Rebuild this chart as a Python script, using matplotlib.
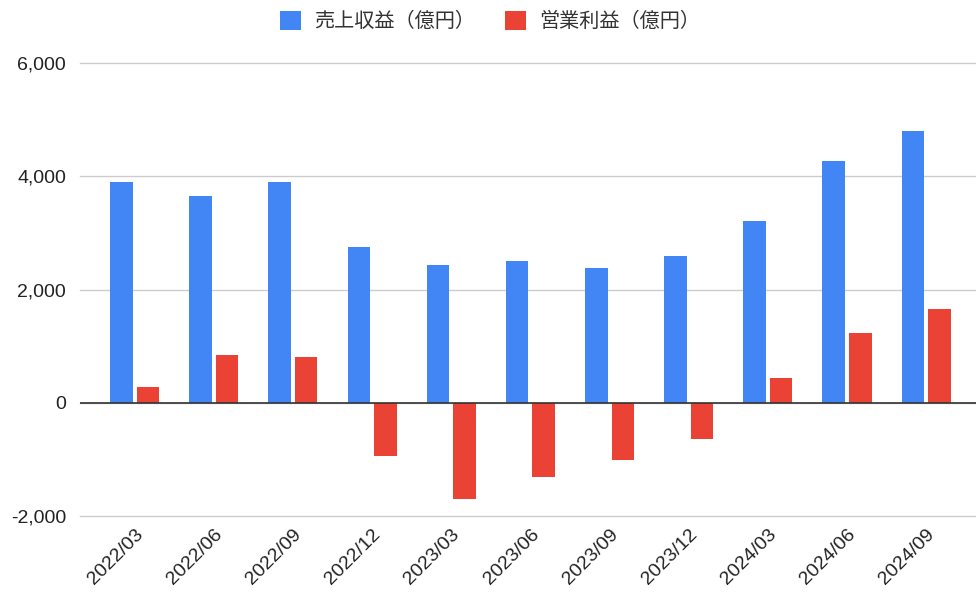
import numpy as np
import matplotlib
matplotlib.use('Agg')
import matplotlib.pyplot as plt
from matplotlib.ticker import FuncFormatter

plt.rcParams['font.family'] = ['Liberation Sans', 'Noto Sans CJK JP', 'DejaVu Sans']

periods = ['2022/03', '2022/06', '2022/09', '2022/12', '2023/03', '2023/06',
           '2023/09', '2023/12', '2024/03', '2024/06', '2024/09']
revenue = [3905, 3660, 3905, 2756, 2438, 2509, 2385, 2597, 3216, 4276, 4806]
op_income = [283, 848, 813, -936, -1696, -1307, -1007, -636, 442, 1237, 1661]

revenue_label = '売上収益（億円）'
op_label = '営業利益（億円）'

fig = plt.figure(figsize=(9.76, 5.95), dpi=100)
ax = fig.add_axes([0.082, 0.1328, 0.918, 0.7612])

x = np.arange(len(periods))
w = 0.285
gap = 0.025
ax.bar(x - w / 2 - gap, revenue, width=w, color='#4285F4', label=revenue_label, zorder=3)
ax.bar(x + w / 2 + gap, op_income, width=w, color='#EA4335', label=op_label, zorder=3)

ax.set_ylim(-2000, 6000)
ax.set_yticks([-2000, 0, 2000, 4000, 6000])
ax.yaxis.set_major_formatter(FuncFormatter(lambda v, p: '{:,.0f}'.format(v)))
ax.set_xlim(-0.69, 10.63)
ax.set_xticks(x)
ax.set_xticklabels(periods, rotation=45, ha='right', rotation_mode='anchor')

ax.grid(axis='y', color='#cccccc', linewidth=1, zorder=0)
for gl in ax.get_ygridlines():
    gl.set_clip_on(False)
ax.axhline(0, color='#333333', linewidth=1.2, zorder=4)
for s in ax.spines.values():
    s.set_visible(False)
ax.tick_params(axis='both', length=0, labelsize=14, colors='#222222')
ax.tick_params(axis='x', pad=7)
ax.tick_params(axis='y', pad=10)

leg = fig.legend(loc='upper center', bbox_to_anchor=(0.502, 1.012), ncol=2, frameon=False,
                 prop={'family': ['Noto Sans CJK JP', 'DejaVu Sans'], 'size': 14.5},
                 handlelength=1.05, handleheight=1.05, columnspacing=1.5, handletextpad=0.65)
for t in leg.get_texts():
    t.set_color('#333333')

fig.savefig('out.png', dpi=100)
